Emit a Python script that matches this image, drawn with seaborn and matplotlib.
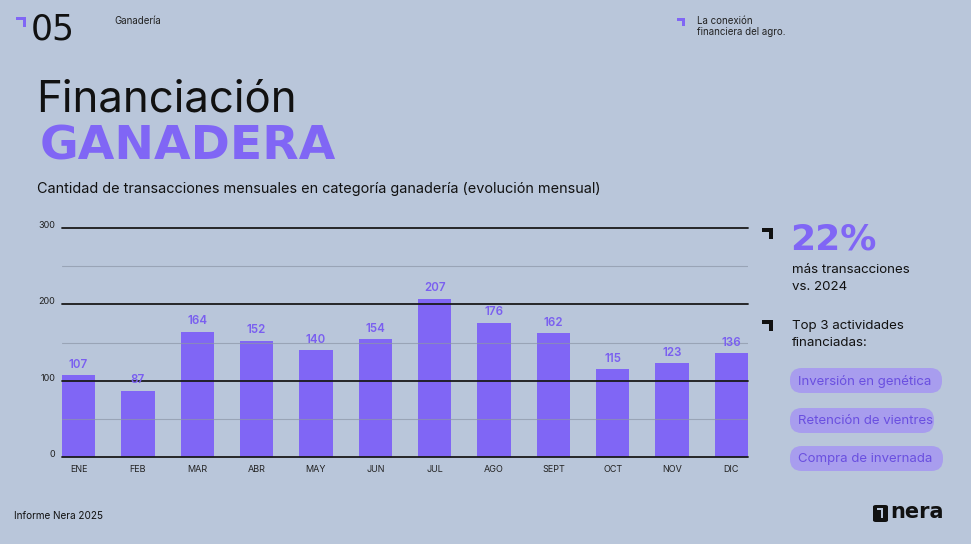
import matplotlib
matplotlib.use("Agg")
import matplotlib.pyplot as plt
from matplotlib.patches import FancyBboxPatch, Rectangle
import seaborn as sns
import pandas as pd

meses = ["ENE", "FEB", "MAR", "ABR", "MAY", "JUN", "JUL", "AGO", "SEPT", "OCT", "NOV", "DIC"]
transacciones = [107, 87, 164, 152, 140, 154, 207, 176, 162, 115, 123, 136]
y_ticks = [0, 100, 200, 300]
y_minor = [50, 150, 250]
actividades = ["Inversión en genética", "Retención de vientres", "Compra de invernada"]

BG = "#B9C6DA"
PURPLE = "#8066F5"
LABEL = "#7A5FF0"
PILL = "#A89DEE"

sns.set_theme(style="white")
plt.rcParams["font.family"] = ["Inter", "DejaVu Sans"]

W, H = 971, 544
fig = plt.figure(figsize=(W / 100, H / 100), dpi=100, facecolor=BG)


def px(x, y):
    return x / W, 1 - y / H


def corner(x, y, size, thick, color):
    # "⌝" shaped mark: top bar + right vertical bar, (x, y) = top-left corner in px
    fig.patches.append(Rectangle(px(x, y + thick), size / W, thick / H, transform=fig.transFigure,
                                 color=color, lw=0))
    fig.patches.append(Rectangle(px(x + size - thick, y + size), thick / W, size / H,
                                 transform=fig.transFigure, color=color, lw=0))


ax = fig.add_axes([62 / W, (H - 457) / H, (748 - 62) / W, (457 - 228) / H])
ax.set_facecolor(BG)
df = pd.DataFrame({"mes": meses, "n": transacciones})
sns.barplot(data=df, x="mes", y="n", color=PURPLE, saturation=1, width=0.56, ax=ax, zorder=2)
for p in ax.patches:
    p.set_edgecolor("none")
ax.set_xlim(-0.28, len(meses) - 1 + 0.28)
ax.set_ylim(0, 300)
for v in y_ticks:
    ax.axhline(v, color="#1a1a1a", lw=1.3, zorder=3, clip_on=False)
for v in y_minor:
    ax.axhline(v, color="#8c96a8", lw=0.8, alpha=0.7, zorder=3)
for i, v in enumerate(transacciones):
    ax.text(i, v + 6, str(v), ha="center", va="bottom", color=LABEL, fontsize=8.3, fontweight="semibold", zorder=4)
ax.set_yticks(y_ticks)
ax.set_yticklabels([str(v) for v in y_ticks], fontsize=6.5, color="#222222")
ax.tick_params(axis="y", length=0, pad=5)
ax.tick_params(axis="x", length=0, pad=6, labelsize=6.5, labelcolor="#222222")
ax.set_xlabel("")
ax.set_ylabel("")
for s in ax.spines.values():
    s.set_visible(False)
for lab in ax.get_yticklabels():
    lab.set_verticalalignment("baseline")

# Header
corner(16, 17, 10, 3, PURPLE)
fig.text(*px(31, 29), "05", fontsize=25, color="#111111", ha="left", va="center", family="DejaVu Sans")
fig.text(*px(114, 21), "Ganadería", fontsize=7, color="#222222", ha="left", va="center")
corner(677, 18, 8, 3, PURPLE)
fig.text(*px(697, 21), "La conexión", fontsize=7, color="#222222", ha="left", va="center")
fig.text(*px(697, 32), "financiera del agro.", fontsize=7, color="#222222", ha="left", va="center")

# Titles
fig.text(*px(36, 100), "Financiación", fontsize=31.5, color="#111111", ha="left", va="center")
fig.text(*px(40, 147), "GANADERA", fontsize=34, color=PURPLE, ha="left", va="center",
         family="DejaVu Sans", fontweight="bold")
fig.text(*px(37, 189), "Cantidad de transacciones mensuales en categoría ganadería (evolución mensual)",
         fontsize=10.4, color="#111111", ha="left", va="center")

# Right panel
corner(762, 228, 11, 4, "#111111")
corner(762, 320, 11, 4, "#111111")
fig.text(*px(790, 240), "22%", fontsize=26, color=PURPLE, ha="left", va="center", family="DejaVu Sans",
         fontweight="bold")
fig.text(*px(792, 270), "más transacciones", fontsize=9.6, color="#111111", ha="left", va="center")
fig.text(*px(792, 287), "vs. 2024", fontsize=9.6, color="#111111", ha="left", va="center")
fig.text(*px(792, 326), "Top 3 actividades", fontsize=9.6, color="#111111", ha="left", va="center")
fig.text(*px(792, 343), "financiadas:", fontsize=9.6, color="#111111", ha="left", va="center")
pills = [(368, 942), (408, 934), (446, 943)]
for (yt, xr), txt in zip(pills, actividades):
    x0, y0 = px(790, yt + 25)
    fig.patches.append(FancyBboxPatch((x0, y0), (xr - 790) / W, 25 / H, transform=fig.transFigure,
                                      boxstyle="round,pad=0,rounding_size=0.012", facecolor=PILL,
                                      edgecolor="none", mutation_aspect=W / H))
    fig.text(*px(798, yt + 13), txt, fontsize=9.5, color="#6A4FE0", ha="left", va="center")

# Footer
fig.text(*px(14, 516), "Informe Nera 2025", fontsize=7.2, color="#111111", ha="left", va="center")
x0, y0 = px(873, 522)
fig.patches.append(FancyBboxPatch((x0, y0), 15 / W, 17 / H, transform=fig.transFigure,
                                  boxstyle="round,pad=0,rounding_size=0.003", facecolor="#111111",
                                  edgecolor="none"))
fig.patches.append(Rectangle(px(877, 510), 6 / W, 2 / H, transform=fig.transFigure, color=BG, lw=0))
fig.patches.append(Rectangle(px(881, 518), 2 / W, 8 / H, transform=fig.transFigure, color=BG, lw=0))
fig.text(*px(890, 512), "nera", fontsize=15, color="#111111", ha="left", va="center", fontweight="bold",
         family="DejaVu Sans")

fig.savefig("out.png", dpi=100, facecolor=BG)
